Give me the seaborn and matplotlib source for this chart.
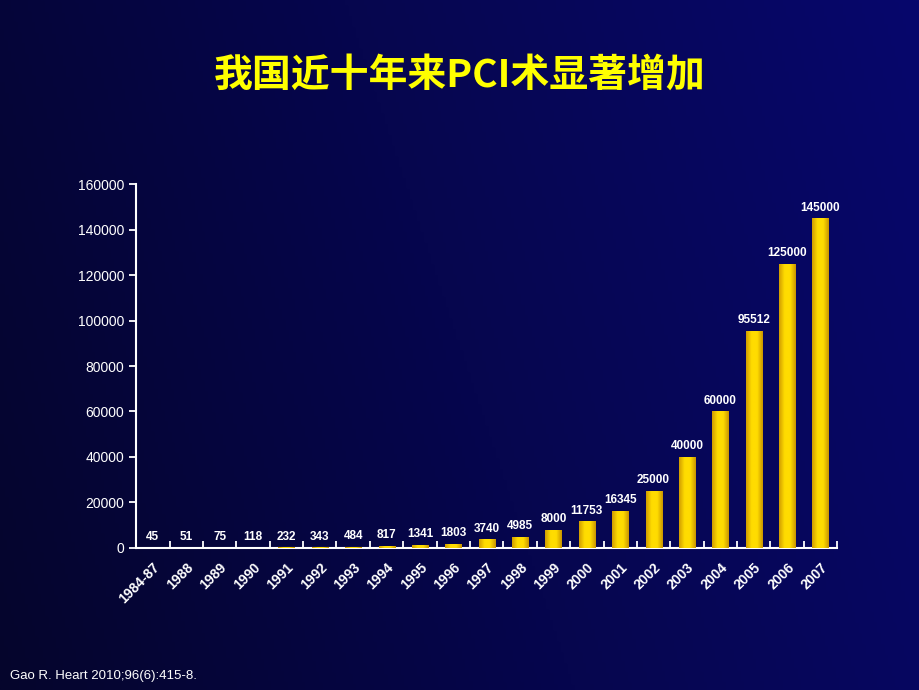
import numpy as np
import pandas as pd
import matplotlib
matplotlib.use("Agg")
import matplotlib.pyplot as plt
import seaborn as sns
from matplotlib.colors import LinearSegmentedColormap

years = ["1984-87", "1988", "1989", "1990", "1991", "1992", "1993", "1994", "1995",
         "1996", "1997", "1998", "1999", "2000", "2001", "2002", "2003", "2004",
         "2005", "2006", "2007"]
values = [45, 51, 75, 118, 232, 343, 484, 817, 1341, 1803, 3740, 4985, 8000, 11753,
          16345, 25000, 40000, 60000, 95512, 125000, 145000]
y_ticks = [0, 20000, 40000, 60000, 80000, 100000, 120000, 140000, 160000]

title = "我国近十年来PCI术显著增加"
footer = "Gao R. Heart 2010;96(6):415-8."

sns.set_theme(style="white")
plt.rcParams['font.family'] = ['Liberation Sans', 'DejaVu Sans']

fig = plt.figure(figsize=(9.2, 6.9), dpi=100)

# background gradient
bg = fig.add_axes([0, 0, 1, 1], zorder=-10)
bg.axis("off")
bgcmap = LinearSegmentedColormap.from_list("bg", ["#05052c", "#06064e", "#07076c"])
gx = np.linspace(0, 1, 256)
gy = np.linspace(0, 1, 256)
G = 0.8 * gx[None, :] + 0.2 * gy[:, None]
bg.imshow(G, aspect="auto", cmap=bgcmap, extent=[0, 1, 0, 1], origin="lower")

ax = fig.add_axes([0.148, 0.206, 0.762, 0.527])
ax.set_facecolor("none")
df = pd.DataFrame({"year": years, "n": values})
sns.barplot(data=df, x="year", y="n", color="#FFD200", width=0.48, ax=ax,
            saturation=1)

grad = np.linspace(0, 1, 256).reshape(1, -1)
barcmap = LinearSegmentedColormap.from_list("bar", ["#D09C00", "#FFDC00", "#FFDC00", "#C89400"])
for p in ax.patches:
    x0, y0 = p.get_x(), p.get_y()
    w, h = p.get_width(), p.get_height()
    im = ax.imshow(grad, aspect="auto", cmap=barcmap,
                   extent=[x0, x0 + w, y0, y0 + h], zorder=3)
    im.set_clip_path(p)
    p.set_edgecolor("none")

for i, v in enumerate(values):
    ax.text(i, v + 2000, f"{v}", ha="center", va="bottom", color="white",
            fontsize=8.5, fontweight="bold", zorder=5)

n = len(years)
ax.set_ylim(0, 160000)
ax.set_yticks(y_ticks)
ax.set_yticklabels([str(t) for t in y_ticks], color="white", fontsize=10)
ax.set_xticks(np.arange(n + 1) - 0.5, minor=True)
ax.set_xticks(np.arange(n))
ax.set_xticklabels(years, rotation=45, ha="right", rotation_mode="anchor",
                   color="white", fontsize=10, fontweight="bold")
ax.tick_params(axis="x", which="major", length=0, pad=9)
ax.tick_params(axis="x", which="minor", length=5, width=1.3, color="white", direction="in", bottom=True)
ax.tick_params(axis="y", length=5, width=1.3, color="white", direction="out", left=True)
ax.set_xlabel("")
ax.set_ylabel("")
for s in ["top", "right"]:
    ax.spines[s].set_visible(False)
for s in ["left", "bottom"]:
    ax.spines[s].set_color("white")
    ax.spines[s].set_linewidth(1.5)
ax.set_xlim(-0.5, n - 0.5)

fig.text(0.5, 0.891, title, ha="center", va="center", color="#FFFF00",
         fontsize=28, fontweight="bold",
         family=["Noto Sans CJK SC", "DejaVu Sans"])
fig.text(0.011, 0.02, footer, ha="left", va="center", color="white", fontsize=9.5)

fig.savefig("out.png", dpi=100, facecolor=fig.get_facecolor())
